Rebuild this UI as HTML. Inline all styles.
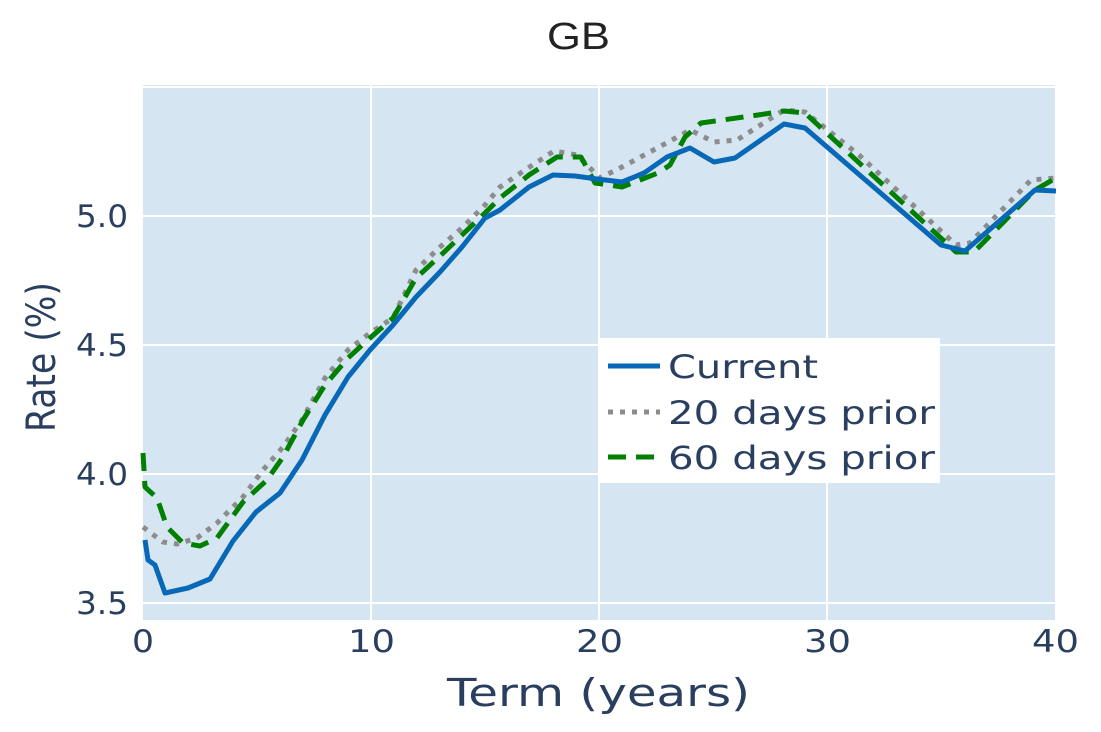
<!DOCTYPE html>
<html><head><meta charset="utf-8"><style>body{margin:0;background:#fff}</style></head><body>
<svg width="1101" height="727" xmlns="http://www.w3.org/2000/svg" font-family="DejaVu Sans, Liberation Sans, sans-serif">
<rect width="1101" height="727" fill="#fff"/>
<rect x="143" y="85" width="912" height="535" fill="#d5e5f1"/>
<g stroke="#fff" stroke-width="2">
<line x1="143" x2="1055" y1="87" y2="87"/><line x1="143" x2="1055" y1="216" y2="216"/><line x1="143" x2="1055" y1="345" y2="345"/><line x1="143" x2="1055" y1="474" y2="474"/><line x1="143" x2="1055" y1="603" y2="603"/>
<line x1="371" x2="371" y1="85" y2="620"/><line x1="599" x2="599" y1="85" y2="620"/><line x1="827" x2="827" y1="85" y2="620"/>
</g>
<g fill="none" stroke-width="5" stroke-linejoin="round">
<polyline stroke="#8c8c8c" stroke-dasharray="5,7" points="143,527 163,542 177,544 197,538 217,523 243,497 263,470 283,447 302,420 325,378 348,350 370,333 393,318 416,270 440,247 462,228 485,205 500,187 525,170 554,151 577,155 600,178 622,167 672,140 690,130 714,142 737,140 784,110 805,112 859,155 956,245 970,243 1031,180 1056,178"/>
<polyline stroke="#008000" stroke-dasharray="18,10" points="143,453 145,487 157,498 167,527 183,543 200,546 217,538 243,502 267,480 283,457 303,420 325,385 348,358 370,338 393,318 416,278 440,256 462,235 485,213 500,198 529,175 557,157 581,157 595,183 622,187 658,173 670,165 685,137 701,123 758,115 784,111 805,113 956,252 974,252 1035,190 1056,178"/>
<polyline stroke="#0868b8" points="145,540 148,560 155,565 165,593 188,588 210,579 233,541 256,512 280,493 302,460 325,415 348,377 370,350 393,325 416,297 440,272 462,247 485,218 500,210 529,187 553,175 575,176 597,179 622,182 644,173 667,157 690,148 714,162 735,158 784,124 805,128 941,245 965,251 1035,190 1056,191"/>
</g>
<rect x="600" y="338" width="340" height="145" fill="#fff"/>
<g stroke-width="5">
<line x1="608" x2="660" y1="366" y2="366" stroke="#0868b8"/>
<line x1="608" x2="660" y1="412" y2="412" stroke="#8c8c8c" stroke-dasharray="5,7"/>
<line x1="608" x2="660" y1="457" y2="457" stroke="#008000" stroke-dasharray="18,10"/>
</g>
<g fill="#2a3f5f" font-size="32">
<text x="668" y="378" textLength="150" lengthAdjust="spacingAndGlyphs">Current</text><text x="668" y="424" textLength="267" lengthAdjust="spacingAndGlyphs">20 days prior</text><text x="668" y="469" textLength="267" lengthAdjust="spacingAndGlyphs">60 days prior</text>
<g font-size="31"><text x="76" y="227" textLength="52" lengthAdjust="spacingAndGlyphs">5.0</text><text x="76" y="356" textLength="52" lengthAdjust="spacingAndGlyphs">4.5</text><text x="76" y="485" textLength="52" lengthAdjust="spacingAndGlyphs">4.0</text><text x="76" y="614" textLength="52" lengthAdjust="spacingAndGlyphs">3.5</text></g>
<g font-size="31"><text x="132" y="652" textLength="22" lengthAdjust="spacingAndGlyphs">0</text><text x="348" y="652" textLength="47" lengthAdjust="spacingAndGlyphs">10</text><text x="576" y="652" textLength="47" lengthAdjust="spacingAndGlyphs">20</text><text x="804" y="652" textLength="47" lengthAdjust="spacingAndGlyphs">30</text><text x="1032" y="652" textLength="47" lengthAdjust="spacingAndGlyphs">40</text></g>
<text x="447" y="706" font-size="38" textLength="303" lengthAdjust="spacingAndGlyphs">Term (years)</text>
<text transform="translate(55,432) rotate(-90)" font-size="40" textLength="150" lengthAdjust="spacingAndGlyphs">Rate (%)</text>
</g>
<text x="547" y="49" font-size="38" fill="#222" font-family="Liberation Sans, sans-serif" textLength="63" lengthAdjust="spacingAndGlyphs">GB</text>
</svg>
</body></html>
